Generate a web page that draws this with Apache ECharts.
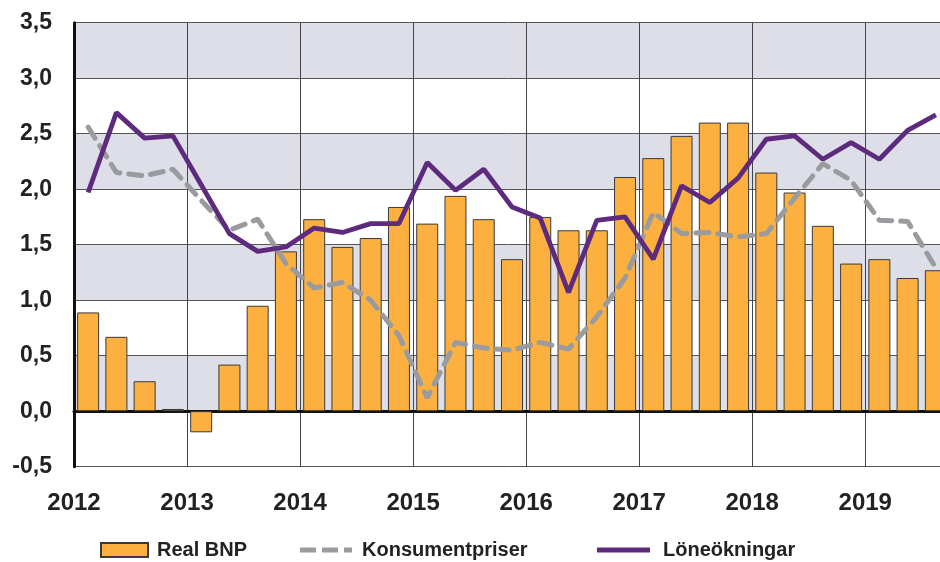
<!DOCTYPE html>
<html>
<head>
<meta charset="utf-8">
<script src="https://cdn.jsdelivr.net/npm/echarts@6/dist/echarts.min.js"></script>
<style>
  html, body { margin: 0; padding: 0; background: #fff; }
  #chart { width: 940px; height: 562px; }
</style>
</head>
<body>
<div id="chart"></div>
<script>
// kvartal 2012 Q1 .. 2019 Q3
const yearTicks = [2012, 2013, 2014, 2015, 2016, 2017, 2018, 2019]
const quarters = []
yearTicks.forEach(y => {
  for (let q = 1; q <= 4; q++) {
    if (quarters.length < 31) quarters.push(y + ' K' + q)
  }
})

const realBnp = [0.89, 0.67, 0.27, 0.02, -0.19, 0.42, 0.95, 1.44, 1.73, 1.48, 1.56, 1.84,
  1.69, 1.94, 1.73, 1.37, 1.75, 1.63, 1.63, 2.11, 2.28, 2.48, 2.60, 2.60,
  2.15, 1.97, 1.67, 1.33, 1.37, 1.20, 1.27]
const konsumentpriser = [2.56, 2.15, 2.12, 2.18, 1.90, 1.63, 1.73, 1.33, 1.11, 1.16, 1.00, 0.68,
  0.12, 0.62, 0.57, 0.55, 0.62, 0.56, 0.85, 1.20, 1.79, 1.60, 1.61, 1.57,
  1.60, 1.92, 2.23, 2.08, 1.72, 1.71, 1.29]
const loneokningar = [1.97, 2.69, 2.46, 2.48, 2.04, 1.60, 1.44, 1.48, 1.65, 1.61, 1.69, 1.69,
  2.24, 1.99, 2.18, 1.84, 1.74, 1.07, 1.72, 1.75, 1.37, 2.03, 1.88, 2.10,
  2.45, 2.48, 2.27, 2.42, 2.27, 2.53, 2.67]

const font = '"Liberation Sans", Arial, sans-serif'

const chart = echarts.init(document.getElementById('chart'))

const legendText = {
  fontFamily: font,
  fontWeight: 'bold',
  fontSize: 20,
  color: '#222'
}

chart.setOption({
  animation: false,
  grid: {
    left: 74,
    top: 22.7,
    width: 876,
    height: 444,
    outerBoundsMode: 'none',
    containLabel: false
  },
  legend: [
    { data: ['Real BNP'], left: 100, top: 540, padding: 0, itemWidth: 47, itemHeight: 14,
      icon: 'rect',
      textStyle: Object.assign({ padding: [0, 0, 0, 4] }, legendText) },
    { data: ['Konsumentpriser'], left: 300, top: 540, padding: 0, itemWidth: 52, itemHeight: 5,
      icon: 'path://M0,0h16v5h-16z M22,0h16v5h-16z M44,0h8v5h-8z',
      textStyle: Object.assign({ padding: [0, 0, 0, 5] }, legendText) },
    { data: ['Löneökningar'], left: 597, top: 540, padding: 0, itemWidth: 53, itemHeight: 5,
      icon: 'rect',
      textStyle: Object.assign({ padding: [0, 0, 0, 8] }, legendText) }
  ],
  xAxis: [
    {
      // kvartal, bär staplar och linjer
      type: 'category',
      data: quarters,
      position: 'bottom',
      boundaryGap: true,
      axisLine: { lineStyle: { color: '#111', width: 3 } },
      axisTick: { show: false },
      axisLabel: { show: false },
      splitLine: { show: false }
    },
    {
      // årsskala för etiketter och lodräta linjer
      type: 'value',
      position: 'bottom',
      min: 2012,
      max: 2019.75,
      interval: 1,
      axisLine: { show: false },
      axisTick: { show: false },
      axisLabel: {
        margin: 25,
        fontFamily: font,
        fontWeight: 'bold',
        fontSize: 24,
        color: '#222',
        formatter: v => yearTicks.indexOf(v) >= 0 ? String(v) : ''
      },
      splitLine: { show: true, lineStyle: { color: '#444', width: 1 } }
    }
  ],
  yAxis: {
    type: 'value',
    min: -0.5,
    max: 3.5,
    interval: 0.5,
    axisLine: { show: true, lineStyle: { color: '#111', width: 3 } },
    axisTick: { show: false },
    axisLabel: {
      margin: 22,
      fontFamily: font,
      fontWeight: 'bold',
      fontSize: 23,
      color: '#222',
      formatter: v => v.toFixed(1).replace('.', ',')
    },
    splitLine: { lineStyle: { color: '#555', width: 1 } },
    splitArea: { show: true, areaStyle: { color: ['#ffffff', '#dedee8'] } }
  },
  series: [
    {
      name: 'Real BNP',
      type: 'bar',
      xAxisIndex: 0,
      barWidth: 22,
      data: realBnp,
      itemStyle: { color: '#fbb040', borderColor: '#3a3a3a', borderWidth: 1 }
    },
    {
      name: 'Konsumentpriser',
      type: 'line',
      xAxisIndex: 0,
      symbol: 'none',
      data: konsumentpriser,
      lineStyle: { color: '#9a9b9f', width: 5, type: [13, 9], cap: 'round' },
      itemStyle: { color: '#9a9b9f' }
    },
    {
      name: 'Löneökningar',
      type: 'line',
      xAxisIndex: 0,
      symbol: 'none',
      data: loneokningar,
      lineStyle: { color: '#5e2a7e', width: 4.8 },
      itemStyle: { color: '#5e2a7e' }
    }
  ]
})
</script>
</body>
</html>
